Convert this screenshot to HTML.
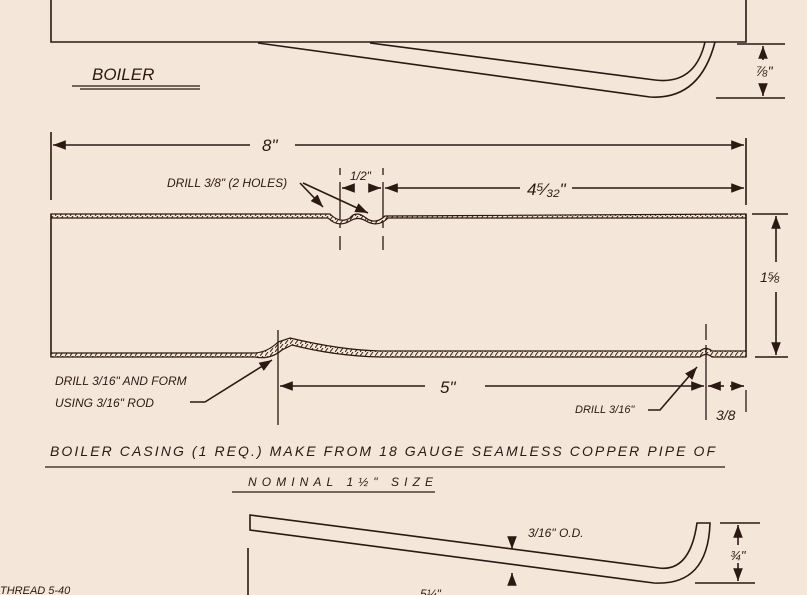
<!DOCTYPE html>
<html><head><meta charset="utf-8"><style>
html,body{margin:0;padding:0;background:#f5e6da;}
svg{display:block;}
text{font-family:"Liberation Sans",sans-serif;fill:#2a1a12;font-style:italic;}
</style></head><body>
<svg width="807" height="595" viewBox="0 0 807 595" xmlns="http://www.w3.org/2000/svg">
<defs>
<pattern id="h" width="5" height="4" patternUnits="userSpaceOnUse"><rect width="5" height="4" fill="#f5e6da"/><line x1="0" y1="4" x2="3" y2="0" stroke="#3a2418" stroke-width="1"/></pattern>
<marker id="a" markerWidth="8" markerHeight="6" refX="8" refY="3" orient="auto"><path d="M0,0 L8,3 L0,6 z" fill="#2a1a12"/></marker>
</defs>
<g stroke="#2a1a12" stroke-width="1.6" fill="none">
<path d="M51,0 V42 H746 V0"/>
<path d="M258,43 L650,97 Q700,100 715,42"/>
<path d="M370,43 L655,80 Q695,85 705,42"/>
<path d="M737,44 H785 M716,98 H785"/>
<path d="M763,60 V46" marker-end="url(#a)"/><path d="M763,84 V96" marker-end="url(#a)"/>
<path d="M72,86 H200 M80,89 H200" stroke-width="1.3"/>
<path d="M51,132 V200 M746,138 V205"/>
<path d="M250,145 H53" marker-end="url(#a)"/><path d="M295,145 H744" marker-end="url(#a)"/>
<path d="M340,168 V175 M340,182 V228 M340,236 V250 M383,168 V175 M383,182 V228 M383,236 V250" stroke-width="1.3"/>
<path d="M352,188 H342" marker-end="url(#a)"/><path d="M371,188 H381" marker-end="url(#a)"/>
<path d="M520,188 H385" marker-end="url(#a)"/><path d="M572,188 H744" marker-end="url(#a)"/>
<path d="M300,183 L323,207" marker-end="url(#a)"/><path d="M303,183 L368,213" marker-end="url(#a)"/>
<path d="M51,214 H330 Q340,224 350,218 Q356,210 366,218 Q375,225 385,216 L746,214 V218 H388 Q378,228 366,221 Q358,216 350,221 Q338,228 328,218 H51 Z" fill="url(#h)" stroke-width="1.2"/>
<path d="M51,214 V357 M746,214 V357"/>
<path d="M51,353 H255 Q268,352 278,342 L290,338 Q340,350 380,351 H700 Q706,346 712,351 H746 V357 H712 Q706,352 700,357 H380 Q335,356 292,345 L282,350 Q270,360 255,357 H51 Z" fill="url(#h)" stroke-width="1.2"/>
<path d="M752,214 H788 M755,357 H788"/>
<path d="M776,262 V216" marker-end="url(#a)"/><path d="M776,292 V355" marker-end="url(#a)"/>
<path d="M278,330 V425 M706,324 V340 M706,345 V420 M746,390 V412" stroke-width="1.3"/>
<path d="M425,386 H280" marker-end="url(#a)"/><path d="M485,386 H704" marker-end="url(#a)"/>
<path d="M724,386 H708" marker-end="url(#a)"/><path d="M730,386 H744" marker-end="url(#a)"/>
<path d="M190,402 H205 L272,360" marker-end="url(#a)"/>
<path d="M648,410 H660 L697,367" marker-end="url(#a)"/>
<path d="M45,467 H725 M232,492 H435" stroke-width="1.3"/>
<path d="M250,515 L659,568 Q690,572 697,523 H710 Q708,586 654,583 L250,530 Z"/>
<path d="M720,523 H760 M695,583 H755"/>
<path d="M738,545 V525" marker-end="url(#a)"/><path d="M738,563 V581" marker-end="url(#a)"/>
<path d="M512,540 V549" marker-end="url(#a)"/><path d="M512,585 V573" marker-end="url(#a)"/>
<path d="M248,548 V595"/>
</g>
<text x="92" y="80" font-size="17">BOILER</text>
<text x="756" y="76" font-size="14">⅞"</text>
<text x="262" y="151" font-size="17">8"</text>
<text x="167" y="187" font-size="12">DRILL 3/8" (2 HOLES)</text>
<text x="350" y="180" font-size="12">1/2"</text>
<text x="527" y="195" font-size="17">4⁵⁄₃₂"</text>
<text x="760" y="282" font-size="14">1⅝</text>
<text x="55" y="385" font-size="12">DRILL 3/16" AND FORM</text>
<text x="55" y="407" font-size="12">USING 3/16" ROD</text>
<text x="440" y="393" font-size="17">5"</text>
<text x="575" y="413" font-size="11">DRILL 3/16"</text>
<text x="716" y="420" font-size="14">3/8</text>
<text x="50" y="456" font-size="14" textLength="665" lengthAdjust="spacing">BOILER CASING (1 REQ.) MAKE FROM 18 GAUGE  SEAMLESS  COPPER  PIPE  OF</text>
<text x="248" y="486" font-size="12" textLength="185" lengthAdjust="spacing">NOMINAL  1½"  SIZE</text>
<text x="528" y="537" font-size="12">3/16" O.D.</text>
<text x="730" y="560" font-size="13">¾"</text>
<text x="0" y="594" font-size="11">THREAD 5-40</text>
<text x="420" y="598" font-size="12">5¼"</text>
</svg>
</body></html>
